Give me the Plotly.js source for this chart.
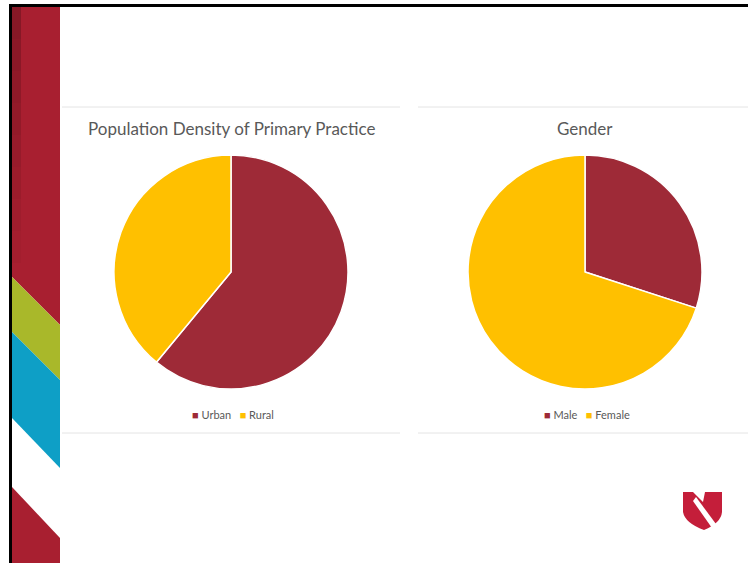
<!DOCTYPE html>
<html>
<head>
<meta charset="utf-8">
<script src="https://cdn.plot.ly/plotly-3.0.1.min.js"></script>
<style>html,body{margin:0;padding:0;background:#fff;}#chart{width:748px;height:563px;}</style>
</head>
<body>
<div id="chart"></div>
<script>
// ---- data ----
const densityTitle = "Population Density of Primary Practice";
const densityLabels = ["Urban", "Rural"];
const densityValues = [61, 39];

const genderTitle = "Gender";
const genderLabels = ["Male", "Female"];
const genderValues = [30, 70];

const sliceColors = ["#9E2A37", "#FFC000"];

// ---- helpers (pixel -> paper) ----
const W = 748, H = 563;
const X = px => px / W;
const Y = py => 1 - py / H;
function poly(pts) {
  return pts.map((p, i) => (i ? "L" : "M") + X(p[0]).toFixed(5) + "," + Y(p[1]).toFixed(5)).join(" ") + " Z";
}
function rect(x0, y0, x1, y1, color, op) {
  return {type: "rect", xref: "paper", yref: "paper", x0: X(x0), x1: X(x1), y0: Y(y1), y1: Y(y0),
          fillcolor: color, opacity: op === undefined ? 1 : op, line: {width: 0}, layer: "below"};
}
function path(pts, color) {
  return {type: "path", xref: "paper", yref: "paper", path: poly(pts), fillcolor: color, line: {width: 0}, layer: "below"};
}
function hline(x0, x1, y, color) {
  return {type: "line", xref: "paper", yref: "paper", x0: X(x0), x1: X(x1), y0: Y(y), y1: Y(y),
          line: {color: color, width: 1}, layer: "below"};
}

const R = 117;
function pieTrace(labels, values, cx, cy) {
  return {
    type: "pie", labels: labels, values: values, sort: false, direction: "clockwise", rotation: 0,
    textinfo: "none", hoverinfo: "label+percent", showlegend: false,
    marker: {colors: sliceColors, line: {color: "#ffffff", width: 1.5}},
    domain: {x: [X(cx - R), X(cx + R)], y: [Y(cy + R), Y(cy - R)]}
  };
}

function legendText(labels) {
  return labels.map((l, i) => "<span style='color:" + sliceColors[i] + "'>■</span> " + l).join("   ");
}

const data = [
  pieTrace(densityLabels, densityValues, 231, 272),
  pieTrace(genderLabels, genderValues, 585, 272)
];

const red = "#A81F30";
const shapes = [
  // left decorative strip
  path([[12, 7], [60, 7], [60, 325], [12, 277]], red),
  path([[12, 277], [60, 325], [60, 380], [12, 332]], "#A9B82A"),
  path([[12, 332], [60, 380], [60, 468], [12, 418]], "#0E9FC6"),
  path([[12, 487], [60, 538], [60, 563], [12, 563]], red)
];
// darker band fading downwards along the left edge of the strip
for (let i = 0; i < 8; i++) {
  shapes.push(rect(12, 7 + i * 32, 21, 7 + (i + 1) * 32, "#5E0F1A", 0.45 * (1 - i / 8)));
}
shapes.push(
  // black frame
  rect(9, 4, 748, 7, "#000000"),
  rect(9, 4, 12, 563, "#000000"),
  // panel separators
  hline(62, 400, 107, "#E4E4E4"),
  hline(62, 400, 433, "#E4E4E4"),
  hline(418, 748, 107, "#E4E4E4"),
  hline(418, 748, 433, "#E4E4E4"),
  // logo
  {type: "path", xref: "paper", yref: "paper", fillcolor: "#C41E3A", line: {width: 0},
   path: "M" + X(683) + "," + Y(492) + " L" + X(693) + "," + Y(492) + " L" + X(703) + "," + Y(502) +
         " L" + X(705) + "," + Y(492) + " L" + X(722) + "," + Y(492) + " L" + X(722) + "," + Y(512) +
         " Q" + X(721) + "," + Y(523) + " " + X(704) + "," + Y(530) +
         " Q" + X(685) + "," + Y(523) + " " + X(683) + "," + Y(512) + " Z"},
  {type: "path", xref: "paper", yref: "paper", fillcolor: "#ffffff", line: {width: 0},
   path: poly([[693, 501], [696, 497], [716, 524], [712, 528]])}
);

const titleFont = {family: "Lato, 'Open Sans', sans-serif", size: 17, color: "#595959"};
const legFont = {family: "Lato, 'Open Sans', sans-serif", size: 11, color: "#595959"};

const annotations = [
  {text: densityTitle, x: X(231), y: Y(128), xref: "paper", yref: "paper", showarrow: false, font: titleFont, xanchor: "center", yanchor: "middle"},
  {text: genderTitle, x: X(585), y: Y(128), xref: "paper", yref: "paper", showarrow: false, font: titleFont, xanchor: "center", yanchor: "middle"},
  {text: legendText(densityLabels), x: X(233), y: Y(414), xref: "paper", yref: "paper", showarrow: false, font: legFont, xanchor: "center", yanchor: "middle"},
  {text: legendText(genderLabels), x: X(587), y: Y(414), xref: "paper", yref: "paper", showarrow: false, font: legFont, xanchor: "center", yanchor: "middle"}
];

const layout = {
  width: W, height: H,
  margin: {l: 0, r: 0, t: 0, b: 0},
  paper_bgcolor: "#ffffff", plot_bgcolor: "#ffffff",
  showlegend: false,
  shapes: shapes,
  annotations: annotations
};

Plotly.newPlot("chart", data, layout, {displayModeBar: false, staticPlot: true});
</script>
</body>
</html>
